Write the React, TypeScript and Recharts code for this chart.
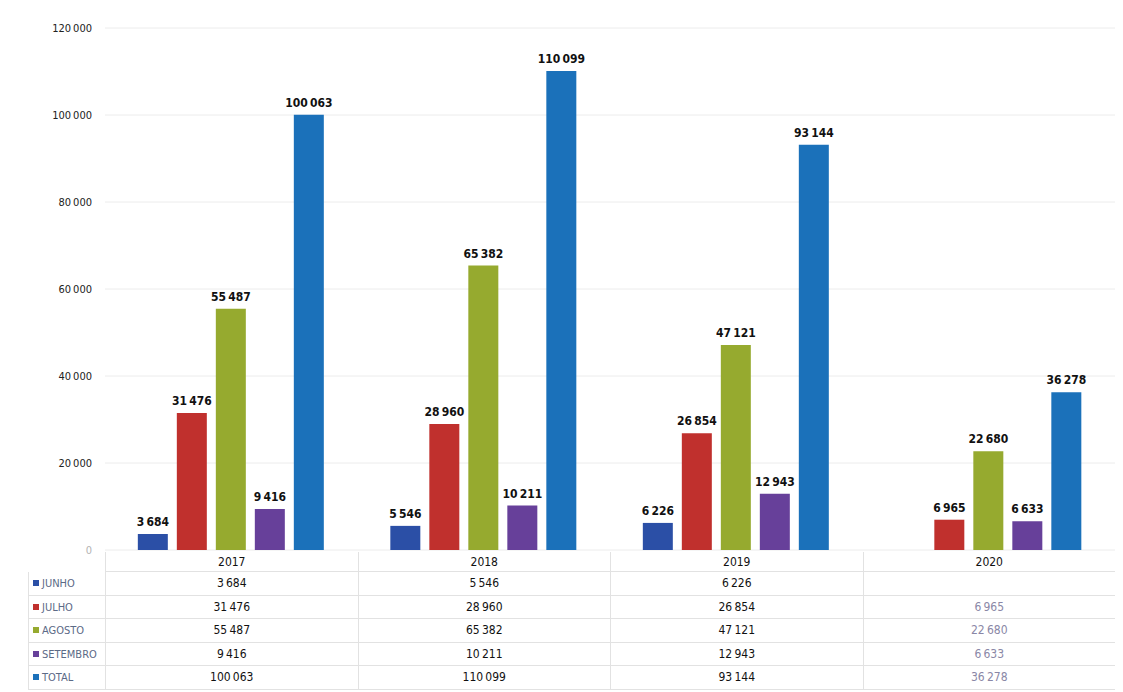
import React from "react";
import { Bar, BarChart, CartesianGrid, LabelList, XAxis, YAxis } from "recharts";

const years = ["2017", "2018", "2019", "2020"];
const junho = [3684, 5546, 6226, null];
const julho = [31476, 28960, 26854, 6965];
const agosto = [55487, 65382, 47121, 22680];
const setembro = [9416, 10211, 12943, 6633];
const total = [100063, 110099, 93144, 36278];
const yTicks = [0, 20000, 40000, 60000, 80000, 100000, 120000];

const series = [
  { key: "junho", name: "JUNHO", values: junho, color: "#2b4fa6" },
  { key: "julho", name: "JULHO", values: julho, color: "#c0302d" },
  { key: "agosto", name: "AGOSTO", values: agosto, color: "#96aa2f" },
  { key: "setembro", name: "SETEMBRO", values: setembro, color: "#67409a" },
  { key: "total", name: "TOTAL", values: total, color: "#1b71ba" },
];

const font = '"Liberation Sans Narrow", "DejaVu Sans Condensed", "Open Sans", sans-serif';

const fmt = (v: number | null | undefined) =>
  v == null ? "" : String(v).replace(/\B(?=(\d{3})+(?!\d))/g, "\u202f");

const data = years.map((year, i) => {
  const row: Record<string, string | number | null> = { year };
  series.forEach((s) => {
    row[s.key] = s.values[i];
  });
  return row;
});

const YTick = (props: any) => {
  const { x, y, payload } = props;
  const zero = payload.value === 0;
  return (
    <text
      x={x}
      y={y}
      dy={4}
      textAnchor="end"
      fontSize={11}
      fontFamily={font}
      fill={zero ? "#b4b4b4" : "#222"}
    >
      {fmt(payload.value)}
    </text>
  );
};

// table geometry (matches the chart's category bands)
const plotLeft = 105;
const plotRight = 1115;
const band = (plotRight - plotLeft) / years.length;
const tableTop = 552;
const headerH = 20;
const rowH = 23.6;

export default function App() {
  return (
    <div
      style={{
        position: "absolute",
        left: 0,
        top: 0,
        width: 1123,
        height: 692,
        background: "#fff",
        fontFamily: font,
      }}
    >
      <BarChart
        width={1123}
        height={562}
        data={data}
        margin={{ top: 28, right: 8, bottom: 12, left: 0 }}
        barCategoryGap="13%"
        barGap={9}
      >
        <CartesianGrid stroke="#ececec" vertical={false} />
        <XAxis dataKey="year" hide />
        <YAxis
          width={105}
          domain={[0, 120000]}
          ticks={yTicks}
          axisLine={false}
          tickLine={false}
          tickMargin={7}
          tick={<YTick />}
        />
        {series.map((s) => (
          <Bar key={s.key} dataKey={s.key} name={s.name} fill={s.color} isAnimationActive={false}>
            <LabelList
              dataKey={s.key}
              position="top"
              offset={8}
              formatter={(v: any) => fmt(v)}
              fill="#111"
              fontSize={12}
              fontWeight="bold"
              fontFamily={font}
            />
          </Bar>
        ))}
      </BarChart>

      {/* data table */}
      {years.map((y, i) => (
        <div
          key={y}
          style={{
            position: "absolute",
            left: plotLeft + i * band,
            top: tableTop,
            width: band,
            height: headerH,
            borderLeft: "1px solid #e2e2e2",
            borderBottom: "1px solid #e2e2e2",
            boxSizing: "border-box",
            textAlign: "center",
            fontSize: 12,
            lineHeight: `${headerH}px`,
            color: "#111",
            background: "#fff",
          }}
        >
          {y}
        </div>
      ))}
      {series.map((s, r) => (
        <React.Fragment key={s.key}>
          <div
            style={{
              position: "absolute",
              left: 28,
              top: tableTop + headerH + r * rowH,
              width: plotLeft - 28,
              height: rowH,
              borderLeft: "1px solid #e2e2e2",
              borderBottom: "1px solid #e2e2e2",
              boxSizing: "border-box",
              fontSize: 11,
              lineHeight: `${rowH}px`,
              color: "#5b6a86",
              whiteSpace: "nowrap",
              paddingLeft: 4,
            }}
          >
            <span
              style={{
                display: "inline-block",
                width: 6,
                height: 6,
                background: s.color,
                marginRight: 3,
                verticalAlign: "middle",
                position: "relative",
                top: -1,
              }}
            />
            {s.name}
          </div>
          {years.map((y, i) => (
            <div
              key={y}
              style={{
                position: "absolute",
                left: plotLeft + i * band,
                top: tableTop + headerH + r * rowH,
                width: band,
                height: rowH,
                borderLeft: "1px solid #e2e2e2",
                borderBottom: "1px solid #e2e2e2",
                boxSizing: "border-box",
                textAlign: "center",
                fontSize: 12,
                lineHeight: `${rowH}px`,
                color: y === "2020" ? "#8a87a6" : "#111",
              }}
            >
              {fmt(s.values[i])}
            </div>
          ))}
        </React.Fragment>
      ))}
    </div>
  );
}
